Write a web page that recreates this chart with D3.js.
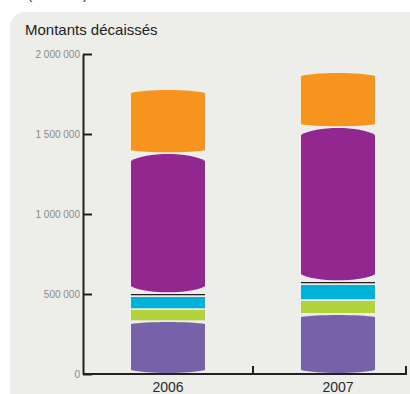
<!DOCTYPE html>
<html>
<head>
<meta charset="utf-8">
<script src="https://cdn.jsdelivr.net/npm/d3@7"></script>
<style>
  body { margin: 0; background: #fff; }
  svg { display: block; }
</style>
</head>
<body>
<script>
// values
var years = ["2006", "2007"];
var seriesKeys = ["violet", "vert", "cyan", "noir", "pourpre", "orange"];
var v2006 = [331000, 75000, 81000, 19000, 875000, 400000];
var v2007 = [375000, 87000, 100000, 19000, 962000, 344000];
var yTicks = [0, 500000, 1000000, 1500000, 2000000];

var width = 410,
  height = 394;

var colors = {
  violet: "#7761a8", vert: "#b2d33c", cyan: "#00b2d8",
  noir: "#231f20", pourpre: "#92278f", orange: "#f7941d"
};
// how much each cap bulges (top, bottom)
var bulge = {
  violet: [2, 3], vert: [0, 0], cyan: [0, 0],
  noir: [0, 0], pourpre: [7, 6], orange: [3, 2]
};

var rows = years.map(function(yr, i){
  var vals = i == 0 ? v2006 : v2007;
  var r = {year: yr};
  seriesKeys.forEach(function(k, j){ r[k] = vals[j]; });
  return r;
});

var svg = d3.select("body").append("svg")
  .attr("width", width)
  .attr("height", height);

// panel
svg.append("rect")
  .attr("x", 10).attr("y", 12)
  .attr("width", 430).attr("height", 420)
  .attr("rx", 15)
  .attr("fill", "#ededea");

svg.append("text")
  .attr("x", 28).attr("y", -1)
  .attr("font-family", "Liberation Sans")
  .attr("font-size", 13)
  .attr("fill", "#231f20")
  .text("(en euros)");

svg.append("text")
  .attr("x", 25).attr("y", 35)
  .attr("font-family", "Liberation Sans")
  .attr("font-size", 15)
  .attr("fill", "#231f20")
  .text("Montants décaissés");

var x = d3.scaleBand()
  .domain(years)
  .range([83, 423]);

var y = d3.scaleLinear()
  .domain([0, 2000000])
  .range([374, 54]);

var barW = 74;

var stack = d3.stack().keys(seriesKeys);
var layers = stack(rows);

function capPath(d, key){
  var cx = x(d.data.year) + x.bandwidth() / 2;
  var x0 = cx - barW / 2, x1 = cx + barW / 2;
  var yt = y(d[1]) + 0.9, yb = y(d[0]) - 0.9;
  var bt = bulge[key][0], bb = bulge[key][1];
  var k = barW * 0.2;
  return "M" + x0 + "," + (yt + bt) +
    "C" + (x0 + k) + "," + (yt - bt / 3) + " " + (x1 - k) + "," + (yt - bt / 3) + " " + x1 + "," + (yt + bt) +
    "L" + x1 + "," + (yb - bb) +
    "C" + (x1 - k) + "," + (yb + bb / 3) + " " + (x0 + k) + "," + (yb + bb / 3) + " " + x0 + "," + (yb - bb) +
    "Z";
}

var layer = svg.selectAll(".layer")
  .data(layers)
  .enter().append("g")
  .attr("class", "layer")
  .attr("fill", function(d){ return colors[d.key]; });

layer.selectAll("path")
  .data(function(d){ return d.map(function(p){ p.key = d.key; return p; }); })
  .enter().append("path")
  .attr("d", function(d){ return capPath(d, d.key); });

// y axis
var fmt = d3.formatLocale({decimal: ",", thousands: " ", grouping: [3], currency: ["", " €"]}).format(",");

var yAxis = svg.append("g")
  .attr("transform", "translate(83,0)")
  .call(d3.axisLeft(y).tickValues(yTicks).tickFormat(fmt).tickSize(-9).tickSizeOuter(0).tickPadding(3));

yAxis.select(".domain").attr("stroke", "#231f20").attr("stroke-width", 2);
yAxis.selectAll(".tick line").attr("stroke", "#231f20").attr("stroke-width", 2);
yAxis.selectAll(".tick text")
  .attr("font-family", "Liberation Sans")
  .attr("font-size", 10)
  .attr("fill", "#8a8a8a");

// x axis
var xAxis = svg.append("g")
  .attr("transform", "translate(0,374)")
  .call(d3.axisBottom(x).tickSize(0).tickPadding(8));

xAxis.select(".domain").remove();
xAxis.selectAll(".tick text")
  .attr("font-family", "Liberation Sans")
  .attr("font-size", 14)
  .attr("fill", "#2b2b2b");

xAxis.append("path")
  .attr("d", "M83,0H406V-8M" + (x(years[1])) + ",0V-8")
  .attr("fill", "none")
  .attr("stroke", "#231f20")
  .attr("stroke-width", 2);
</script>
</body>
</html>
